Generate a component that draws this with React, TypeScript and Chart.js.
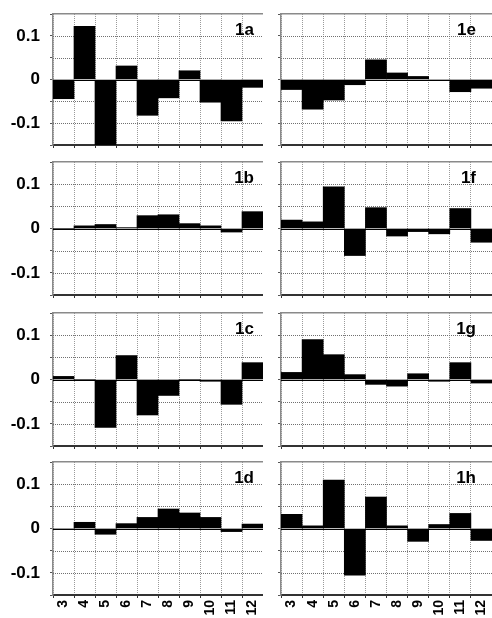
import React, { useEffect, useRef } from 'react';
import { Chart, registerables } from 'chart.js';

Chart.register(...registerables);

// ---- data ----
const categories = ['3', '4', '5', '6', '7', '8', '9', '10', '11', '12'];
const panelLabels = ['1a', '1b', '1c', '1d', '1e', '1f', '1g', '1h'];
const yLabeledTicks = [-0.1, 0, 0.1];
const yLabeledTickText = ['-0.1', '0', '0.1'];
const yGridValues = [-0.1, -0.05, 0.05, 0.1];
const yMin = -0.15;
const yMax = 0.15;
const yStep = 0.05;

const values1a = [-0.044, 0.122, -0.15, 0.031, -0.082, -0.042, 0.02, -0.052, -0.095, -0.018];
const values1b = [0.0, 0.006, 0.009, 0.002, 0.029, 0.031, 0.011, 0.006, -0.008, 0.038];
const values1c = [0.007, 0.0, -0.108, 0.054, -0.08, -0.036, 0.0, -0.004, -0.056, 0.038];
const values1d = [-0.001, 0.014, -0.013, 0.011, 0.025, 0.044, 0.035, 0.025, -0.007, 0.01];
const values1e = [-0.023, -0.068, -0.047, -0.012, 0.045, 0.015, 0.007, -0.002, -0.028, -0.02];
const values1f = [0.019, 0.015, 0.094, -0.061, 0.047, -0.017, -0.007, -0.012, 0.045, -0.031];
const values1g = [0.016, 0.09, 0.056, 0.011, -0.011, -0.015, 0.013, -0.004, 0.038, -0.008];
const values1h = [0.032, 0.006, 0.109, -0.105, 0.071, 0.006, -0.029, 0.009, 0.034, -0.027];

const panelValues = [values1a, values1b, values1c, values1d, values1e, values1f, values1g, values1h];

// ---- layout ----
const FONT = '"Liberation Sans", Arial, Helvetica, sans-serif';
const PAGE_W = 492;
const PAGE_H = 618;
const PLOT_TOPS = [14, 162, 313, 462];
const PLOT_BOTTOMS = [145, 295, 446, 595];
const COL_LEFT = [0, 263];
const COL_WIDTH = [263, 229];
const Y_AXIS_W = [53, 18];
const LABEL_INSET = [9, 16];
const PAD_TOP = 4;

// horizontal grid lines and zero line, positioned through the y scale
const hGridPlugin = {
  id: 'hGrid',
  beforeDatasetsDraw(chart: any) {
    const { ctx, chartArea, scales } = chart;
    const y = scales.y;
    if (!y) return;
    ctx.save();
    ctx.lineWidth = 1;
    ctx.setLineDash([1, 1]);
    ctx.strokeStyle = '#707070';
    for (const v of yGridValues) {
      const py = Math.round(y.getPixelForValue(v)) + 0.5;
      ctx.beginPath();
      ctx.moveTo(chartArea.left, py);
      ctx.lineTo(chartArea.right, py);
      ctx.stroke();
    }
    ctx.setLineDash([]);
    ctx.strokeStyle = '#000';
    const pz = Math.round(y.getPixelForValue(0)) + 0.5;
    ctx.beginPath();
    ctx.moveTo(chartArea.left, pz);
    ctx.lineTo(chartArea.right, pz);
    ctx.stroke();
    ctx.restore();
  },
};

const panelLabelPlugin = {
  id: 'panelLabel',
  afterDatasetsDraw(chart: any, _args: any, opts: any) {
    const { ctx, chartArea } = chart;
    ctx.save();
    ctx.font = `bold 17px ${FONT}`;
    ctx.fillStyle = '#000';
    ctx.textAlign = 'right';
    ctx.textBaseline = 'alphabetic';
    ctx.fillText(opts.text, chartArea.right - opts.inset, chartArea.top + 21);
    ctx.restore();
  },
};

function yLabel(v: number): string {
  for (let i = 0; i < yLabeledTicks.length; i++) {
    if (Math.abs(v - yLabeledTicks[i]) < 1e-6) return yLabeledTickText[i];
  }
  return '';
}

function Panel({ index }: { index: number }) {
  const ref = useRef<HTMLCanvasElement>(null);
  const col = Math.floor(index / 4);
  const row = index % 4;
  const isLeft = col === 0;
  const isBottom = row === 3;
  const plotTop = PLOT_TOPS[row];
  const plotBottom = PLOT_BOTTOMS[row];
  const xAxisH = isBottom ? PAGE_H - plotBottom : 6;
  const canvasTop = plotTop - PAD_TOP;
  const canvasHeight = plotBottom + xAxisH - canvasTop;
  const canvasLeft = COL_LEFT[col];
  const canvasWidth = COL_WIDTH[col];
  const yAxisW = Y_AXIS_W[col];

  useEffect(() => {
    if (!ref.current) return;
    const chart = new Chart(ref.current, {
      type: 'bar',
      data: {
        labels: categories,
        datasets: [
          {
            data: panelValues[index],
            backgroundColor: '#000',
            borderWidth: 0,
            barPercentage: 1,
            categoryPercentage: 1,
          },
        ],
      },
      options: {
        animation: false,
        responsive: false,
        maintainAspectRatio: false,
        devicePixelRatio: 1,
        events: [],
        layout: { padding: { top: PAD_TOP, left: 0, right: 0, bottom: 0 } },
        plugins: {
          legend: { display: false },
          tooltip: { enabled: false },
          panelLabel: { text: panelLabels[index], inset: LABEL_INSET[col] },
        } as any,
        scales: {
          x: {
            type: 'category',
            position: 'bottom',
            offset: true,
            grid: {
              display: true,
              offset: true,
              color: '#9a9a9a',
              lineWidth: 1,
              drawTicks: true,
              tickLength: 3,
              tickColor: '#333',
              tickWidth: 1,
            },
            border: { display: true, color: '#333', width: 2, dash: [1, 1] },
            ticks: {
              display: isBottom,
              autoSkip: false,
              minRotation: 90,
              maxRotation: 90,
              padding: 2,
              color: '#000',
              font: { family: FONT, size: 14, weight: 'bold' },
            },
            afterFit: (s: any) => {
              s.height = xAxisH;
              s.paddingLeft = 0;
              s.paddingRight = 0;
            },
          },
          xTop: {
            type: 'category',
            position: 'top',
            offset: true,
            grid: { display: false, drawTicks: false },
            border: { display: true, color: '#8a8a8a', width: 1.5 },
            ticks: { display: false },
            afterFit: (s: any) => {
              s.height = 0;
              s.paddingLeft = 0;
              s.paddingRight = 0;
            },
          },
          y: {
            type: 'linear',
            position: 'left',
            min: yMin,
            max: yMax,
            grid: {
              drawOnChartArea: false,
              drawTicks: true,
              tickLength: 3,
              tickColor: '#555',
            },
            border: { display: true, color: '#8a8a8a', width: 1.5 },
            ticks: {
              display: isLeft,
              autoSkip: false,
              stepSize: yStep,
              padding: 10,
              color: '#000',
              font: { family: FONT, size: 17, weight: 'bold' },
              callback: (v: any) => yLabel(Number(v)),
            },
            afterFit: (s: any) => {
              s.width = yAxisW;
              s.paddingTop = 0;
              s.paddingBottom = 0;
            },
          },
        } as any,
      },
      plugins: [hGridPlugin as any, panelLabelPlugin as any],
    });
    return () => chart.destroy();
  }, []);

  return (
    <canvas
      ref={ref}
      width={canvasWidth}
      height={canvasHeight}
      style={{
        position: 'absolute',
        left: canvasLeft,
        top: canvasTop,
        width: canvasWidth,
        height: canvasHeight,
        display: 'block',
      }}
    />
  );
}

export default function App() {
  return (
    <div
      style={{
        position: 'absolute',
        left: 0,
        top: 0,
        width: PAGE_W,
        height: PAGE_H,
        background: '#fff',
        overflow: 'hidden',
      }}
    >
      {panelLabels.map((_, i) => (
        <Panel key={i} index={i} />
      ))}
    </div>
  );
}
